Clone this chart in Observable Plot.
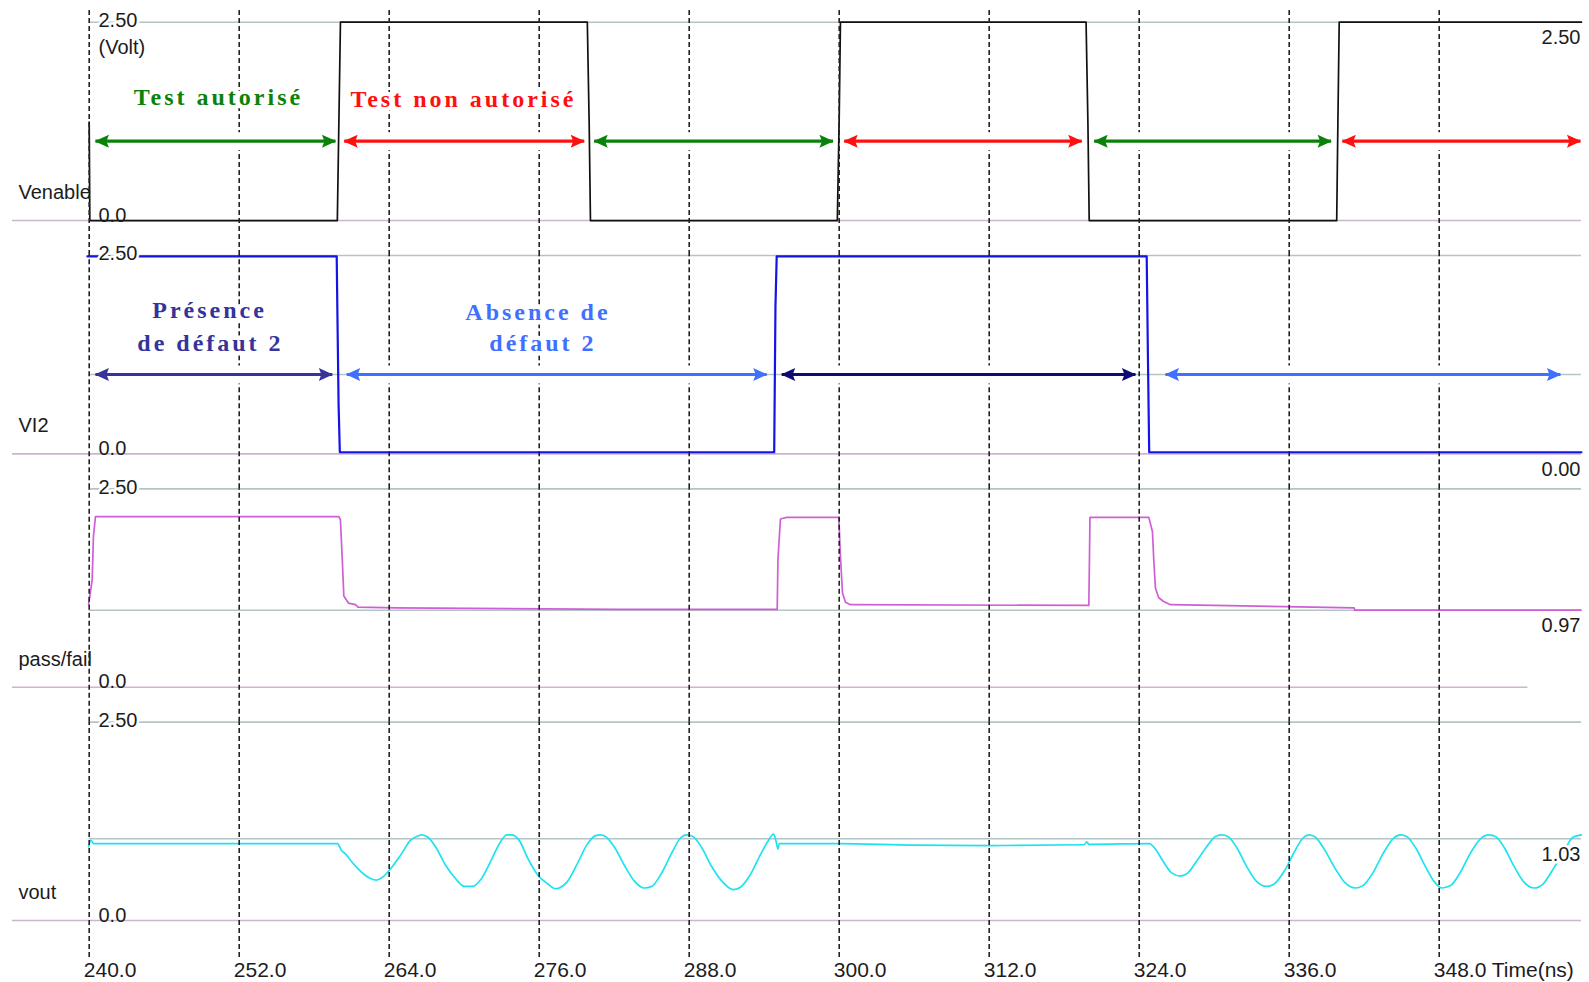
<!DOCTYPE html>
<html>
<head>
<meta charset="utf-8">
<script src="https://cdn.jsdelivr.net/npm/d3@7"></script>
<script src="https://cdn.jsdelivr.net/npm/@observablehq/plot@0.6"></script>
<style>
  html, body { margin: 0; padding: 0; background: #fff; overflow: hidden; }
  svg { display: block; max-width: none !important; }
</style>
</head>
<body>
<script>
// ---- Signals (top to bottom) ----
const panels = ["Venable", "VI2", "pass/fail", "vout"];

// ---- Time axis (ns) ----
const tickTimes = [240, 252, 264, 276, 288, 300, 312, 324, 336, 348];
const tickLabels = ["240.0", "252.0", "264.0", "276.0", "288.0", "300.0", "312.0", "324.0", "336.0", "348.0 Time(ns)"];
const timeStart = 233.864, timeEnd = 359.384;

// ---- Per-panel full scale and cursor readouts (V) ----
const fullScale = 2.5;
const readouts = [2.50, 0.00, 0.97, 1.03];
// horizontal cursor / guide lines (V) per panel
const guideLevels = [null, 1.0, 0.97, 1.03];

// ---- Waveforms: [time ns, volts] ----
const venable = [
  [240.0, 1.24], [240.05, 0], [259.85, 0], [259.95, 1.0], [260.1, 2.5],
  [279.85, 2.5], [280.0, 1.2], [280.1, 0], [299.85, 0], [300.0, 1.3], [300.1, 2.5],
  [319.75, 2.5], [319.9, 1.2], [320.0, 0], [339.8, 0], [339.9, 1.3], [340.0, 2.5],
  [359.38, 2.5]
];

const vi2 = [
  [239.85, 2.49], [259.8, 2.49], [259.85, 1.85], [259.95, 0.63], [260.05, 0.02],
  [294.8, 0.02], [294.9, 1.85], [295.0, 2.49], [324.6, 2.49], [324.7, 1.2],
  [324.8, 0.02], [359.38, 0.02]
];

const passFail = [
  [239.95, 1.04], [240.24, 1.36], [240.34, 1.9], [240.5, 2.15], [259.97, 2.15],
  [260.1, 2.11], [260.24, 1.63], [260.37, 1.15], [260.74, 1.06], [261.3, 1.04],
  [261.5, 1.01], [264.6, 1.0], [282.4, 0.98], [295.04, 0.98], [295.1, 1.61],
  [295.3, 2.12], [295.8, 2.14], [299.97, 2.14], [300.1, 1.65], [300.26, 1.19],
  [300.5, 1.07], [300.9, 1.04], [319.97, 1.03], [320.02, 1.61], [320.06, 2.14],
  [324.77, 2.14], [325.06, 1.96], [325.17, 1.59], [325.3, 1.25], [325.55, 1.13],
  [325.95, 1.08], [326.5, 1.04], [341.2, 1.0], [341.25, 0.97], [359.35, 0.97]
];

const vout = [
  [239.95, 0.93], [240.15, 1.01], [240.35, 0.97], [259.85, 0.97],
  [260.2, 0.88], [260.5, 0.84], [260.9, 0.76], [261.4, 0.67], [262.0, 0.58],
  [262.5, 0.53], [263.0, 0.51], [263.5, 0.55], [264.1, 0.65], [264.9, 0.82],
  [265.7, 1.01], [266.2, 1.06], [266.6, 1.08], [267.1, 1.05], [267.7, 0.93],
  [268.5, 0.70], [269.3, 0.53], [270.0, 0.43], [270.7, 0.43], [271.3, 0.51],
  [272.1, 0.74], [272.9, 0.99], [273.4, 1.08], [273.8, 1.08], [274.4, 1.01],
  [275.1, 0.78], [275.9, 0.57], [276.7, 0.46], [277.3, 0.40], [278.2, 0.48],
  [279.0, 0.70], [279.8, 0.95], [280.5, 1.07], [280.9, 1.08], [281.3, 1.06],
  [282.0, 0.93], [282.8, 0.70], [283.6, 0.50], [284.4, 0.41], [285.0, 0.43],
  [285.8, 0.60], [286.6, 0.85], [287.3, 1.04], [287.8, 1.08], [288.3, 1.06],
  [289.0, 0.92], [289.8, 0.68], [290.7, 0.48], [291.5, 0.39], [292.1, 0.42],
  [292.9, 0.58], [293.7, 0.83], [294.3, 1.0], [294.75, 1.09], [294.95, 1.0],
  [295.1, 0.90], [295.2, 0.97], [300.0, 0.97], [306.0, 0.95], [312.0, 0.945],
  [319.6, 0.955], [319.8, 0.99], [320.0, 0.96], [324.8, 0.97],
  [325.3, 0.90], [325.9, 0.75], [326.6, 0.60], [327.3, 0.56], [327.9, 0.60],
  [328.6, 0.75], [329.4, 0.93], [330.1, 1.06], [330.6, 1.08], [331.1, 1.06],
  [331.8, 0.92], [332.6, 0.68], [333.4, 0.49], [334.2, 0.43], [334.8, 0.46],
  [335.6, 0.62], [336.4, 0.86], [337.1, 1.04], [337.6, 1.08], [338.1, 1.05],
  [338.8, 0.90], [339.7, 0.65], [340.5, 0.47], [341.3, 0.41], [341.9, 0.44],
  [342.7, 0.60], [343.5, 0.84], [344.3, 1.03], [344.9, 1.08], [345.4, 1.06],
  [346.1, 0.92], [346.9, 0.68], [347.6, 0.49], [348.2, 0.41], [348.9, 0.44],
  [349.7, 0.61], [350.5, 0.85], [351.3, 1.03], [351.97, 1.08], [352.5, 1.06],
  [353.2, 0.92], [354.0, 0.68], [354.8, 0.48], [355.6, 0.41], [356.3, 0.46],
  [357.2, 0.67], [358.0, 0.88], [358.7, 1.05], [359.38, 1.08]
];

// ---- Annotation spans: [from ns, to ns] ----
const enableSpans = [[240.5, 259.7], [260.4, 279.6], [280.4, 299.5], [300.4, 319.4], [320.4, 339.35], [340.25, 359.3]];
const enableKinds = ["autorisé", "non autorisé", "autorisé", "non autorisé", "autorisé", "non autorisé"];
const defectSpans = [[240.5, 259.45], [260.6, 294.2], [295.4, 323.7], [326.1, 357.7]];
const defectKinds = ["présence", "absence", "présence ", "absence"];
const arrowLevel = 1.0;

// ---- Annotation labels: [panel, text, time ns, volts, kind] ----
const annotations = [
  ["Venable", "Test autorisé", 250.34, 1.55, "autorisé"],
  ["Venable", "Test non autorisé", 269.94, 1.53, "non autorisé"],
  ["VI2", "Présence", 249.63, 1.81, "présence"],
  ["VI2", "de défaut 2", 249.7, 1.39, "présence"],
  ["VI2", "Absence de", 275.9, 1.785, "absence"],
  ["VI2", "défaut 2", 276.3, 1.39, "absence"]
];

// ---- Styling ----
const kindColor = {
  "autorisé": "#0a820a",
  "non autorisé": "#ff1010",
  "présence": "#34349a",
  "présence ": "#0c0c74",
  "absence": "#3f70ff"
};
const traceColor = {"Venable": "#111111", "VI2": "#1414e6", "pass/fail": "#cf5fd6", "vout": "#1de3f0"};
const traceWidth = {"Venable": 1.7, "VI2": 2.2, "pass/fail": 1.7, "vout": 1.7};
const gridColor = "#b3c5c5";
const baseColor = "#cdb5cd";
const inkColor = "#1c1c1c";
const sans = "'Liberation Sans', Arial, sans-serif";
const serif = "'Liberation Serif', 'Times New Roman', serif";

// ---- Layout ----
const W = 1589, H = 982, MT = 21.7, MB = 62, ML = 12, MR = 8, PAD = 0.15;
const step = (H - MT - MB) / (panels.length - PAD);
const band = step * (1 - PAD);
const vPerPx = fullScale / band;
const gapV = (step - band) * vPerPx;

// ---- Tidy tables ----
const traces = [
  ...venable.map(([t, v]) => ({panel: "Venable", t, v})),
  ...vi2.map(([t, v]) => ({panel: "VI2", t, v})),
  ...passFail.map(([t, v]) => ({panel: "pass/fail", t, v})),
  ...vout.map(([t, v]) => ({panel: "vout", t, v}))
];

const dashed = panels.flatMap((panel, i) => tickTimes.map((t) => ({
  panel, t,
  y1: i === panels.length - 1 ? -37 * vPerPx : -gapV,
  y2: i === 0 ? fullScale + (MT - 9) * vPerPx : fullScale
})));

const topLines = panels.map((panel) => ({panel, x1: 240, x2: timeEnd, v: fullScale}));
const baseLines = panels.map((panel) => ({panel, x1: timeStart, x2: panel === "pass/fail" ? 355.1 : timeEnd, v: 0}));
const guides = panels.map((panel, i) => ({panel, v: guideLevels[i]})).filter((d) => d.v != null);

const arrows = [
  ...enableSpans.map(([a, b], i) => ({panel: "Venable", a, b, color: kindColor[enableKinds[i]]})),
  ...defectSpans.map(([a, b], i) => ({panel: "VI2", a, b, color: kindColor[defectKinds[i]]}))
];
const notes = annotations.map(([panel, text, t, v, kind]) => ({panel, text, t, v, color: kindColor[kind]}));
const readoutRows = panels.map((panel, i) => ({panel, v: readouts[i], text: d3.format(".2f")(readouts[i])}));

// Filled, notched arrow head
function arrowHead(color, context) {
  const doc = (context && context.document) || document;
  const ns = "http://www.w3.org/2000/svg";
  const m = doc.createElementNS(ns, "marker");
  m.setAttribute("viewBox", "-15 -8 16 16");
  m.setAttribute("markerWidth", 16);
  m.setAttribute("markerHeight", 16);
  m.setAttribute("markerUnits", "userSpaceOnUse");
  m.setAttribute("orient", "auto-start-reverse");
  m.setAttribute("refX", 0);
  m.setAttribute("refY", 0);
  const p = doc.createElementNS(ns, "path");
  p.setAttribute("d", "M0.8,0L-13.5,-6.5L-11,0L-13.5,6.5Z");
  p.setAttribute("fill", color);
  m.appendChild(p);
  return m;
}

const chart = Plot.plot({
  width: W, height: H,
  marginTop: MT, marginBottom: MB, marginLeft: ML, marginRight: MR,
  x: {domain: [timeStart, timeEnd], axis: null},
  y: {domain: [0, fullScale], axis: null},
  fy: {domain: panels, axis: null, paddingInner: PAD, paddingOuter: 0, round: false},
  style: {fontFamily: sans, fontSize: "20px", color: inkColor, background: "#fff"},
  marks: [
    // grid: full-scale, zero and cursor lines
    Plot.ruleY(topLines, {fy: "panel", y: "v", x1: "x1", x2: "x2", stroke: gridColor, strokeWidth: 1.6}),
    Plot.ruleY(guides, {fy: "panel", y: "v", x1: 240, x2: timeEnd, stroke: gridColor, strokeWidth: 1.6}),
    Plot.ruleY(baseLines, {fy: "panel", y: "v", x1: "x1", x2: "x2", stroke: baseColor, strokeWidth: 1.6}),

    // waveforms
    ...panels.map((p) => Plot.line(traces.filter((d) => d.panel === p), {
      fy: "panel", x: "t", y: "v",
      stroke: traceColor[p], strokeWidth: traceWidth[p],
      curve: p === "vout" ? "monotone-x" : "linear"
    })),

    // time grid
    Plot.ruleX(dashed, {fy: "panel", x: "t", y1: "y1", y2: "y2", stroke: "#222", strokeWidth: 1.6, strokeDasharray: "5,3"}),

    // double-headed span arrows on a white strip
    Plot.link(arrows, {fy: "panel", x1: "a", x2: "b", y1: () => arrowLevel, y2: () => arrowLevel, stroke: "#fff", strokeWidth: 18}),
    Plot.link(arrows, {fy: "panel", x1: "a", x2: "b", y1: () => arrowLevel, y2: () => arrowLevel,
      stroke: "color", strokeWidth: 3.2, markerStart: arrowHead, markerEnd: arrowHead}),

    // annotation captions
    Plot.text(notes, {fy: "panel", x: "t", y: "v", text: "text", fill: "color",
      stroke: "#fff", strokeWidth: 9, paintOrder: "stroke", strokeLinejoin: "round",
      fontFamily: serif, fontWeight: "bold", fontSize: 24, ariaDescription: "annotation"}),

    // signal names
    Plot.text(panels, {fy: (d) => d, text: (d) => d, y: () => 0.35, frameAnchor: "left", dx: 6, textAnchor: "start", fill: inkColor}),

    // scale labels
    Plot.text(panels, {fy: (d) => d, x: () => 240, y: () => fullScale, text: () => "2.50", textAnchor: "start", dx: 9.3, dy: -1.5,
      fill: inkColor, stroke: "#fff", strokeWidth: 5, paintOrder: "stroke"}),
    Plot.text(panels, {fy: (d) => d, x: () => 240, y: () => 0, text: () => "0.0", textAnchor: "start", dx: 9.3, dy: 1, lineAnchor: "bottom", fill: inkColor}),
    Plot.text(["Venable"], {fy: (d) => d, x: () => 240, y: () => 2.185, text: () => "(Volt)", textAnchor: "start", dx: 9.3, fill: inkColor}),

    // cursor readouts
    Plot.text(readoutRows, {fy: "panel", y: "v", text: "text", frameAnchor: "right", textAnchor: "end", lineAnchor: "top", dx: -1, dy: 8,
      fill: inkColor, stroke: "#fff", strokeWidth: 5, paintOrder: "stroke"}),

    // time tick labels
    Plot.text(tickTimes, {fy: () => "vout", x: (d) => d, y: () => -49.3 * vPerPx, text: (d, i) => tickLabels[i],
      textAnchor: "start", dx: -5.4, fontSize: 21, fill: inkColor})
  ]
});

chart.querySelectorAll('g[aria-description="annotation"] text').forEach((t) => t.style.letterSpacing = "3px");
document.body.appendChild(chart);
</script>
</body>
</html>
